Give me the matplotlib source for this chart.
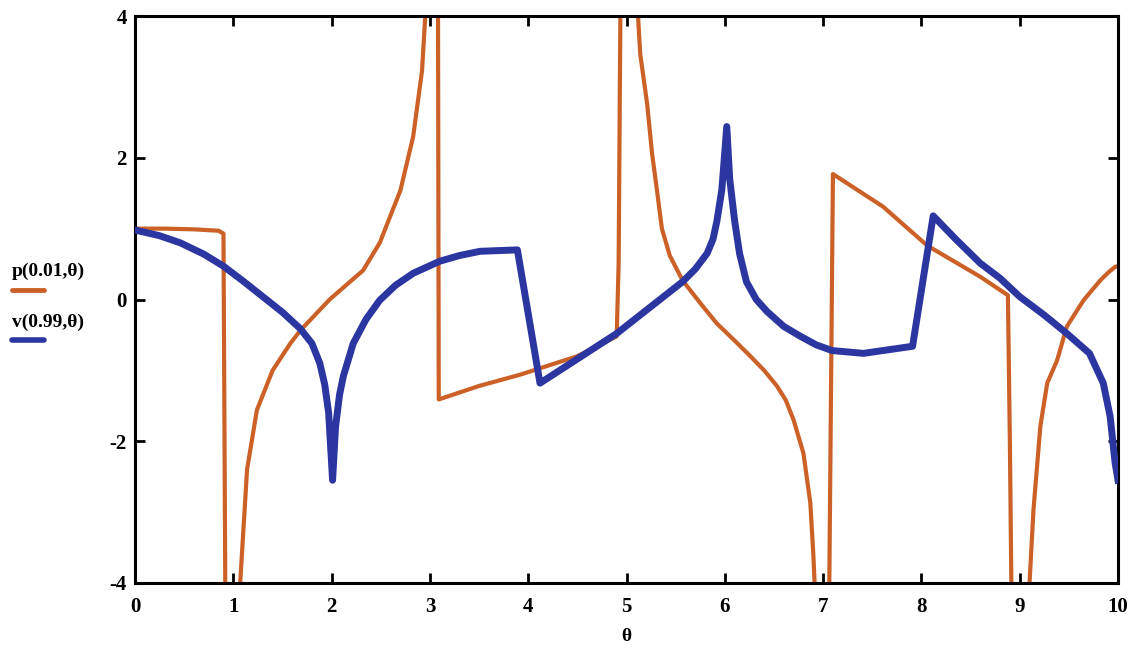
import numpy as np
import matplotlib
matplotlib.use("Agg")
import matplotlib.pyplot as plt

# p(0.01, theta) -- orange
theta_p = [0.0, 0.3, 0.6, 0.85, 0.9, 0.92, 0.94,
           1.05, 1.07, 1.14, 1.24, 1.4, 1.58, 1.68, 1.98, 2.32, 2.49, 2.7, 2.83, 2.92, 2.95, 2.98, 3.0,
           3.08, 3.09, 3.5, 3.92, 4.5, 4.9, 4.92, 4.94, 4.96,
           5.08, 5.12, 5.14, 5.21, 5.26, 5.31, 5.36, 5.44, 5.57, 5.75, 5.92, 6.1, 6.26, 6.4, 6.53,
           6.62, 6.7, 6.8, 6.87, 6.9, 6.93, 6.95,
           7.04, 7.06, 7.1, 7.61, 8.06, 8.6, 8.88, 8.9, 8.93,
           9.08, 9.1, 9.14, 9.21, 9.28, 9.38, 9.48, 9.65, 9.82, 9.9, 9.97, 10.0]
p_vals = [1.0, 1.0, 0.99, 0.97, 0.93, -4.5, -6.0,
          -6.0, -4.0, -2.4, -1.56, -1.0, -0.62, -0.44, 0.0, 0.41, 0.8, 1.54, 2.3, 3.23, 3.93, 5.0, 6.0,
          6.0, -1.41, -1.22, -1.06, -0.8, -0.52, 0.5, 4.5, 6.0,
          6.0, 3.93, 3.46, 2.76, 2.06, 1.54, 1.0, 0.62, 0.27, -0.05, -0.34, -0.58, -0.8, -1.0, -1.22,
          -1.42, -1.7, -2.17, -2.87, -3.58, -4.5, -6.0,
          -6.0, -4.5, 1.77, 1.31, 0.76, 0.32, 0.06, -2.0, -6.0,
          -6.0, -4.0, -2.97, -1.79, -1.18, -0.86, -0.38, -0.01, 0.27, 0.38, 0.46, 0.47]

# v(0.99, theta) -- blue
theta_v = [0.0, 0.25, 0.46, 0.7, 0.9, 1.1, 1.3, 1.5, 1.68, 1.8, 1.88, 1.93, 1.97, 2.01,
           2.04, 2.08, 2.12, 2.22, 2.35, 2.49, 2.65, 2.83, 3.1, 3.3, 3.51, 3.89,
           4.12, 4.9, 5.57, 5.7, 5.82, 5.88, 5.92, 5.97, 6.02,
           6.05, 6.1, 6.15, 6.22, 6.32, 6.43, 6.6, 6.77, 6.93, 7.09, 7.41, 7.91,
           8.12, 8.35, 8.6, 8.8, 9.0, 9.25, 9.48, 9.71, 9.85, 9.92, 9.97, 10.0]
v_vals = [0.98, 0.9, 0.8, 0.64, 0.47, 0.26, 0.04, -0.18, -0.41, -0.62, -0.9, -1.2, -1.6, -2.55,
          -1.8, -1.35, -1.08, -0.62, -0.28, -0.01, 0.2, 0.37, 0.54, 0.62, 0.68, 0.7,
          -1.18, -0.48, 0.25, 0.43, 0.65, 0.85, 1.11, 1.55, 2.44,
          1.7, 1.11, 0.65, 0.25, 0.0, -0.17, -0.38, -0.52, -0.64, -0.72, -0.76, -0.66,
          1.18, 0.85, 0.51, 0.3, 0.04, -0.22, -0.48, -0.76, -1.18, -1.65, -2.3, -2.55]

x_ticks = list(range(0, 11))
y_ticks = [-4, -2, 0, 2, 4]

serif = ["Liberation Serif", "DejaVu Serif"]

fig = plt.figure(figsize=(11.38, 6.54), dpi=100)
fig.patch.set_facecolor("white")
ax = fig.add_axes([135/1138, 1-583/654, 983/1138, 567/654])

ax.plot(theta_p, p_vals, color="#cc6128", lw=3.0, solid_joinstyle="round", zorder=2)
ax.plot(theta_v, v_vals, color="#2b36a0", lw=5.0, solid_joinstyle="round", zorder=3)

ax.set_xlim(0, 10)
ax.set_ylim(-4, 4)
ax.set_xticks(x_ticks)
ax.set_yticks(y_ticks)
ax.set_xticklabels([str(t) for t in x_ticks], fontfamily=serif, fontweight="bold", fontsize=15)
ax.set_yticklabels([str(t) for t in y_ticks], fontfamily=serif, fontweight="bold", fontsize=15)
ax.tick_params(axis="both", direction="in", length=7, width=2, color="black",
               top=True, right=True)
ax.tick_params(axis="x", pad=10)
ax.tick_params(axis="y", pad=6)
for s in ax.spines.values():
    s.set_linewidth(2.2)
    s.set_color("black")

ax.set_xlabel("θ", fontfamily=serif, fontweight="bold", fontsize=14, labelpad=8)

# legend on the left, Mathcad style
fig.text(12/1138, 1-271/654, "p(0.01,θ)", fontfamily=serif, fontweight="bold",
         fontsize=14, va="center", ha="left")
fig.add_artist(plt.Line2D([12/1138, 44/1138], [1-290/654, 1-290/654],
                          color="#cc6128", lw=3.5, solid_capstyle="round"))
fig.text(12/1138, 1-322/654, "v(0.99,θ)", fontfamily=serif, fontweight="bold",
         fontsize=14, va="center", ha="left")
fig.add_artist(plt.Line2D([12/1138, 44/1138], [1-340/654, 1-340/654],
                          color="#2b36a0", lw=4.0, solid_capstyle="round"))

fig.savefig("out.png", dpi=100, facecolor="white")
